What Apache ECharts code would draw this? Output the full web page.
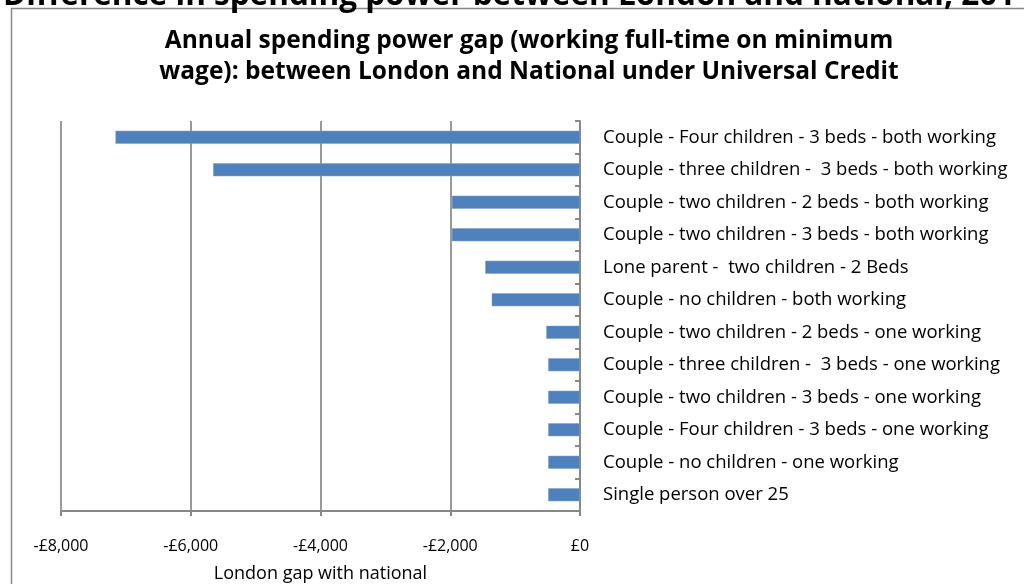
<!DOCTYPE html>
<html>
<head>
<meta charset="UTF-8">
<title>Annual spending power gap</title>
<script src="https://cdn.jsdelivr.net/npm/echarts@6/dist/echarts.min.js"></script>
<style>
  html, body { margin: 0; padding: 0; background: #fff; }
  #chart { width: 1024px; height: 584px; }
</style>
</head>
<body>
<div id="chart"></div>
<script>
// household types, top to bottom
var categories = [
  'Couple - Four children - 3 beds - both working',
  'Couple - three children -  3 beds - both working',
  'Couple - two children - 2 beds - both working',
  'Couple - two children - 3 beds - both working',
  'Lone parent -  two children - 2 Beds',
  'Couple - no children - both working',
  'Couple - two children - 2 beds - one working',
  'Couple - three children -  3 beds - one working',
  'Couple - two children - 3 beds - one working',
  'Couple - Four children - 3 beds - one working',
  'Couple - no children - one working',
  'Single person over 25'
];
// London gap with national (£ per year)
var gapValues = [-7160, -5655, -1975, -1975, -1460, -1360, -520, -490, -490, -490, -490, -490];

var fontName = '"Open Sans", "Noto Sans", sans-serif';

var myChart = echarts.init(document.getElementById('chart'));

function money(v) {
  if (v === 0) return '£0';
  var s = Math.abs(v).toString().replace(/\B(?=(\d{3})+(?!\d))/g, ',');
  return (v < 0 ? '-£' : '£') + s;
}

var option = {
  animation: false,
  textStyle: { fontFamily: fontName },
  title: {
    text: 'Annual spending power gap (working full-time on minimum\nwage): between London and National under Universal Credit',
    left: 524,
    top: 21,
    textAlign: 'center',
    textStyle: { fontFamily: fontName, fontSize: 24.5, fontWeight: 'bold', color: '#000', lineHeight: 30.5 }
  },
  graphic: [
    {
      type: 'text',
      left: 3,
      top: -20,
      style: { text: 'Difference in spending power between London and national, 2014', font: 'bold 31.5px ' + fontName, fill: '#000' }
    },
    {
      type: 'rect',
      shape: { x: 11.5, y: 8.5, width: 1030, height: 600 },
      style: { fill: '#fff', stroke: '#888', lineWidth: 1.5 },
      z: -1
    }
  ],
  grid: { left: 61, right: 444, top: 121, bottom: 73, outerBoundsMode: 'none' },
  xAxis: {
    type: 'value',
    min: -8000,
    max: 0,
    interval: 2000,
    name: 'London gap with national',
    nameLocation: 'middle',
    nameGap: 54,
    nameTextStyle: { fontFamily: fontName, fontSize: 18, color: '#000' },
    axisLine: { show: true, lineStyle: { color: '#888', width: 2 } },
    axisTick: { show: true, length: 5, lineStyle: { color: '#888', width: 2 } },
    axisLabel: { formatter: money, fontSize: 16, color: '#000', margin: 27 },
    splitLine: { show: true, lineStyle: { color: '#999', width: 2 } }
  },
  yAxis: {
    type: 'category',
    data: categories,
    inverse: true,
    position: 'right',
    axisLine: { show: true, lineStyle: { color: '#888', width: 2 } },
    axisTick: { show: true, inside: true, length: 5, lineStyle: { color: '#888', width: 2 } },
    axisLabel: { fontSize: 18.5, color: '#000', margin: 23 }
  },
  series: [{
    type: 'bar',
    data: gapValues,
    barWidth: 13,
    itemStyle: { color: '#4F81BD', borderColor: '#7DA0CC', borderWidth: 0.5 }
  }]
};

myChart.setOption(option);
</script>
</body>
</html>
